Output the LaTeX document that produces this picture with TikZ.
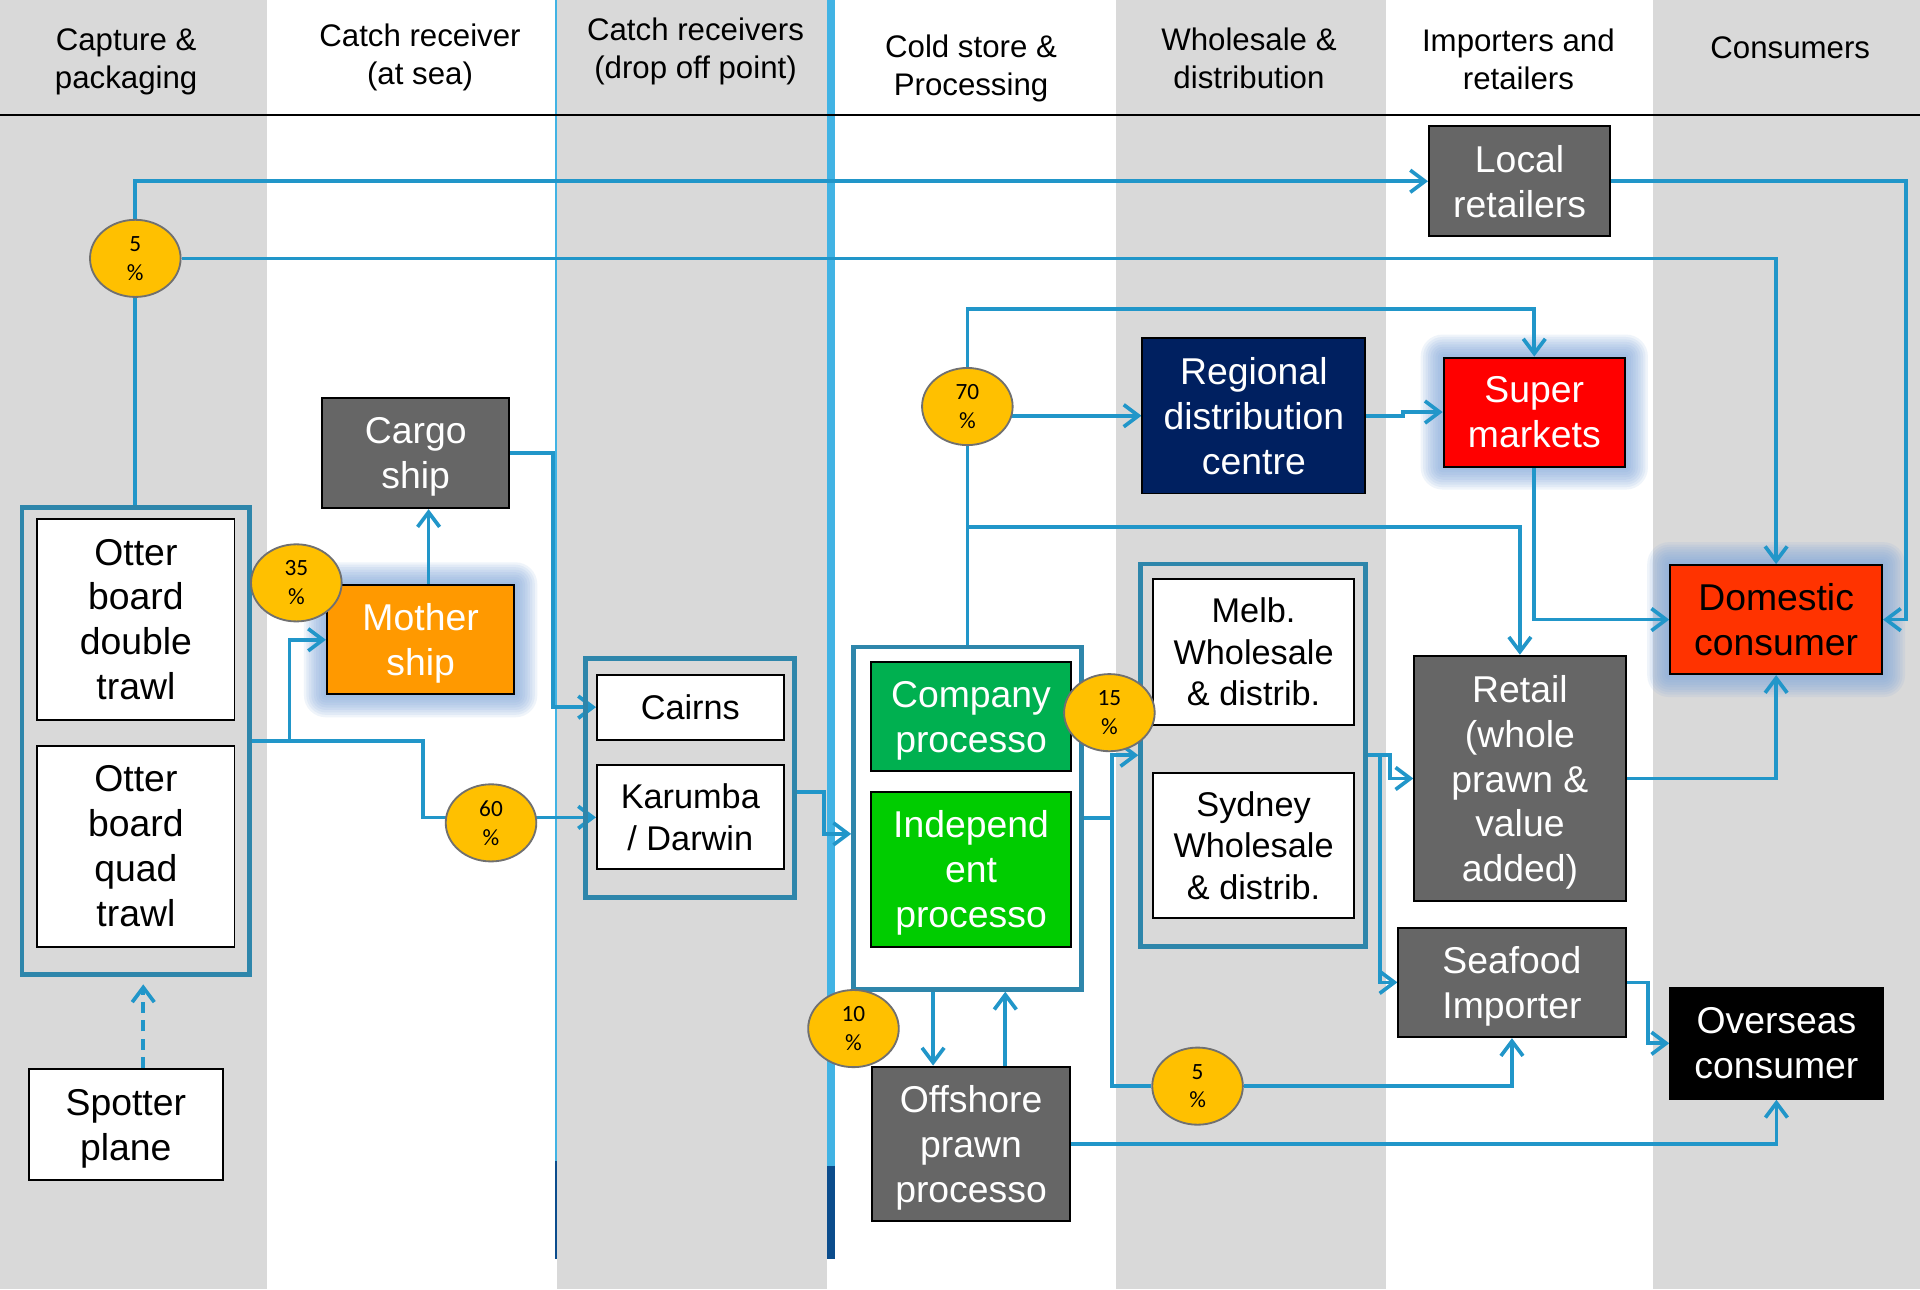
\documentclass[tikz,border=0pt]{standalone}
\usepackage{fontspec}
\setmainfont{Liberation Sans}
\newfontfamily\pctfont{Carlito}
\usetikzlibrary{arrows.meta,shapes.geometric}

\definecolor{band}{HTML}{D9D9D9}
\definecolor{flowc}{HTML}{2196C9}
\definecolor{framec}{HTML}{2E86AB}
\definecolor{divider}{HTML}{41B3E4}
\definecolor{dividerdark}{HTML}{0B4C8C}
\definecolor{boxgray}{HTML}{666666}
\definecolor{navyc}{HTML}{002060}
\definecolor{superred}{HTML}{FF0000}
\definecolor{domred}{HTML}{FF3300}
\definecolor{motherc}{HTML}{FF9900}
\definecolor{coproc}{HTML}{00B050}
\definecolor{indproc}{HTML}{00CC00}
\definecolor{pctfill}{HTML}{FFC000}
\definecolor{pctedge}{HTML}{707070}
\definecolor{glowc}{HTML}{7FA7DA}

\pgfdeclarelayer{bands}
\pgfdeclarelayer{glow}
\pgfdeclarelayer{lines}
\pgfsetlayers{bands,glow,lines,main}

% soft blue halo behind a highlighted box
\newcommand\boxglow[1]{%
  \begin{pgfonlayer}{glow}
    \foreach \g in {2,4,...,18}{%
      \fill[glowc, opacity=0.12, rounded corners=\g pt]
        ([shift={(-\g pt,\g pt)}]#1.north west) rectangle ([shift={(\g pt,-\g pt)}]#1.south east);}
  \end{pgfonlayer}}

\begin{document}
\begin{tikzpicture}[x=1pt,y=-1pt,
  >={Straight Barb[length=12pt,width=18pt]},
  head/.style={align=center, inner sep=0pt, font=\fontsize{25.5}{31}\selectfont},
  box/.style={rectangle, draw=black, line width=1.6pt, inner sep=0pt, align=center,
    font=\fontsize{30.5}{36.7}\selectfont},
  whitebox/.style={box, fill=white},
  smallbox/.style={box, fill=white, font=\fontsize{28}{34}\selectfont},
  graybox/.style={box, fill=boxgray, text=white},
  container/.style={rectangle, draw=framec, line width=3.8pt, inner sep=0pt},
  pct/.style={ellipse, fill=pctfill, draw=pctedge, line width=1.5pt, inner sep=0pt,
    minimum width=74pt, minimum height=63pt, align=center,
    font=\pctfont\fontsize{19}{23.5}\selectfont},
  flowline/.style={draw=flowc, line width=3pt},
  spotline/.style={flowline, dash pattern=on 9pt off 6pt}
]
\useasboundingbox (0,0) rectangle (1568,1053);

% column bands, dividers and header rule
\begin{pgfonlayer}{bands}
  \fill[white] (0,0) rectangle (1568,1053);
  \fill[band] (0,0) rectangle (218,1053);
  \fill[band] (455,0) rectangle (675,1053);
  \fill[band] (911.5,0) rectangle (1131.5,1053);
  \fill[band] (1350,0) rectangle (1568,1053);
  \draw[divider, line width=2pt] (454,0) -- (454,948);
  \draw[dividerdark, line width=2pt] (454,948) -- (454,1028);
  \draw[divider, line width=7pt] (678.5,0) -- (678.5,952);
  \draw[dividerdark, line width=7pt] (678.5,952) -- (678.5,1028);
  \draw[black, line width=1.5pt] (0,94.2) -- (1568,94.2);
\end{pgfonlayer}

% column headings
\node[head] (h1) at (103,47.5) {Capture \&\\\smash{packaging}};
\node[head] (h2) at (343,44) {Catch receiver\\\smash{(at sea)}};
\node[head] (h3) at (568,39.5) {Catch receivers\\\smash{(drop off point)}};
\node[head] (h4) at (793,53.5) {Cold store \&\\\smash{Processing}};
\node[head] (h5) at (1020,47.5) {Wholesale \&\\distribution};
\node[head] (h6) at (1240,48.5) {Importers and\\retailers};
\node[head] (h7) at (1462,39) {Consumers};

% capture
\node[container, minimum width=186pt, minimum height=381.4pt] (otter) at (111,605.3) {};
\node[whitebox, minimum width=161pt, minimum height=164pt] (double) at (111,506) {Otter\\board\\double\\trawl};
\node[whitebox, minimum width=161pt, minimum height=164pt] (quad) at (111,691) {Otter\\board\\quad\\trawl};
\node[whitebox, minimum width=158.5pt, minimum height=91pt] (spotter) at (102.75,918.5) {Spotter\\\smash{plane}};

% at sea
\node[graybox, minimum width=153pt, minimum height=90pt] (cargo) at (339.5,370) {Cargo\\\smash{ship}};
\node[box, fill=motherc, text=white, minimum width=153pt, minimum height=89pt] (mother) at (343.5,522.5) {Mother\\\smash{ship}};
\boxglow{mother}

% drop off points
\node[container, minimum width=171pt, minimum height=195pt] (dropbox) at (563.5,635.5) {};
\node[smallbox, minimum width=152.5pt, minimum height=53pt] (cairns) at (563.75,577.5) {Cairns};
\node[smallbox, minimum width=152.5pt, minimum height=85pt] (karumba) at (563.75,667.5) {Karumba\\\smash{/ Darwin}};

% processing
\node[container, fill=white, minimum width=186pt, minimum height=279.5pt] (procbox) at (790,668.25) {};
\node[box, fill=coproc, text=white, minimum width=164pt, minimum height=89pt] (company) at (793,585.5) {Company\\\smash{processo}};
\node[box, fill=indproc, text=white, minimum width=164pt, minimum height=126pt] (indep) at (793,710) {Independ\\ent\\\smash{processo}};
\node[graybox, minimum width=162pt, minimum height=126pt] (offshore) at (793,934) {Offshore\\prawn\\\smash{processo}};

% wholesale
\node[box, fill=navyc, text=white, minimum width=182pt, minimum height=127pt] (regional) at (1024,339.5) {Regional\\distribution\\centre};
\node[container, minimum width=183.5pt, minimum height=312.5pt] (wholesale) at (1023.25,616.75) {};
\node[smallbox, minimum width=164.5pt, minimum height=119pt] (melb) at (1023.75,532.5) {Melb.\\Wholesale\\\& distrib.};
\node[smallbox, minimum width=164.5pt, minimum height=119pt] (sydney) at (1023.75,690.5) {Sydney\\Wholesale\\\& distrib.};

% importers and retailers
\node[graybox, minimum width=148pt, minimum height=90pt] (local) at (1241,148) {Local\\retailers};
\node[box, fill=superred, text=white, minimum width=148pt, minimum height=89pt] (super) at (1253,336.5) {Super\\markets};
\boxglow{super}
\node[graybox, minimum width=172.5pt, minimum height=200.5pt] (retail) at (1241.25,635.75) {Retail\\(whole\\prawn \&\\value\\\smash{added)}};
\node[graybox, minimum width=185.5pt, minimum height=89.5pt] (seafood) at (1234.75,802.25) {Seafood\\\smash{Importer}};

% consumers
\node[box, fill=domred, text=black, minimum width=173pt, minimum height=89pt] (domestic) at (1450.5,506) {Domestic\\consumer};
\boxglow{domestic}
\node[box, fill=black, text=white, minimum width=173.5pt, minimum height=90.7pt] (overseas) at (1450.75,852) {Overseas\\consumer};

% share markers
\node[pct] (pA) at (110.5,211) {5\\\%};
\node[pct] (pB) at (242,476) {35\\\%};
\node[pct] (pC) at (401,672) {60\\\%};
\node[pct] (pD) at (790,332) {70\\\%};
\node[pct] (pE) at (906,582) {15\\\%};
\node[pct] (pF) at (697,840) {10\\\%};
\node[pct] (pG) at (978,887) {5\\\%};

% junctions
\coordinate (lrbend) at (1556.4,148);
\coordinate (j70) at (790,430.5);
\coordinate (j15) at (908,668.25);
\coordinate (wsout) at (1127,616.75);

% flows
\begin{pgfonlayer}{lines}
  \draw[flowline] (pA) -- (pA |- otter.north);
  \draw[flowline,->] (pA) |- (local.west);
  \draw[flowline,->] (pA) -| (domestic.north);
  \draw[flowline,->] (local.east) -- (lrbend) |- (domestic.east);

  \draw[flowline,->] (otter.east) -| (345.5,667.5) -- (karumba.west);
  \draw[flowline,->] ([xshift=30.5pt]otter.east) |- (mother.west);
  \draw[flowline,->] ([xshift=6.5pt]mother.north) -- ([xshift=10.5pt]cargo.south);
  \draw[flowline,->] (cargo.east) -| (451.5,577.5) -- (cairns.west);
  \draw[flowline,->] ([yshift=-11.5pt]dropbox.east) -| (673,681) -- ([yshift=-12.75pt]procbox.west);
  \draw[spotline,->] ([xshift=14.25pt]spotter.north) -- ([xshift=6pt,yshift=-6pt]otter.south);

  \draw[flowline] (procbox.north) -- (pD);
  \draw[flowline,->] (pD) |- ([yshift=39pt]super.north) -- (super.north);
  \draw[flowline,->] (pD |- regional.west) -- (regional.west);
  \draw[flowline,->] (j70) -| (retail.north);
  \draw[flowline,->] (regional.east) -- (1146,339.5) -- (1146,336.5) -- (super.west);
  \draw[flowline,->] (super.south) |- (domestic.west);

  \draw[flowline,->] (procbox.east) -| (908,616.75) -- (wholesale.west);
  \draw[flowline,->] (j15) |- (pG) -| (seafood.south);
  \draw[flowline,->] ([xshift=-28pt]procbox.south) -- ([xshift=-31pt]offshore.north);
  \draw[flowline,->] ([xshift=28pt]offshore.north) -- ([xshift=31pt]procbox.south);

  \draw[flowline] (wholesale.east) -- (wsout);
  \draw[flowline,->] (wsout) -- (1135,616.75) |- (retail.west);
  \draw[flowline,->] (wsout) |- (seafood.west);

  \draw[flowline,->] (retail.east) -| (domestic.south);
  \draw[flowline,->] (seafood.east) -| (1346,852) -- (overseas.west);
  \draw[flowline,->] (offshore.east) -| (overseas.south);
\end{pgfonlayer}
\end{tikzpicture}
\end{document}
